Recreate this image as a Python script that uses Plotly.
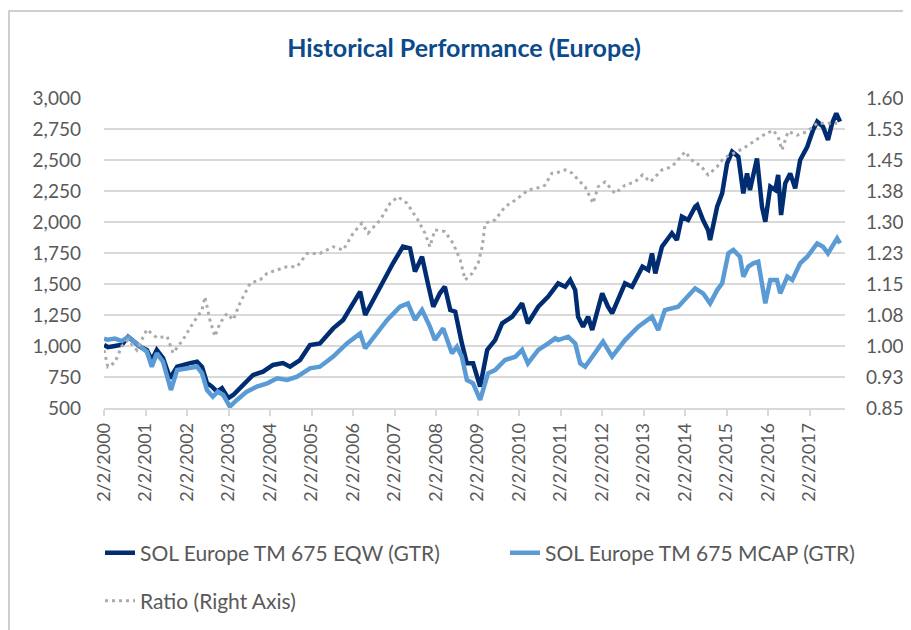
import plotly.graph_objects as go

# ---- data (decimal year, value) ----
eqw_t = [2000.09, 2000.18, 2000.35, 2000.52, 2000.67, 2000.96, 2001.12, 2001.24, 2001.36, 2001.51,
         2001.68, 2001.85, 2002.16, 2002.33, 2002.45, 2002.57, 2002.69, 2002.81, 2002.93, 2003.08,
         2003.20, 2003.44, 2003.68, 2003.92, 2004.16, 2004.40, 2004.57, 2004.81, 2005.05, 2005.29,
         2005.61, 2005.85, 2006.09, 2006.26, 2006.38, 2006.57, 2006.81, 2007.05, 2007.29, 2007.46,
         2007.58, 2007.75, 2007.89, 2008.02, 2008.18, 2008.30, 2008.43, 2008.55, 2008.71, 2008.83,
         2008.98, 2009.15, 2009.32, 2009.51, 2009.68, 2009.92, 2010.16, 2010.30, 2010.55, 2010.79,
         2011.03, 2011.20, 2011.32, 2011.44, 2011.51, 2011.63, 2011.75, 2011.85, 2012.09, 2012.23,
         2012.33, 2012.64, 2012.81, 2013.06, 2013.20, 2013.29, 2013.37, 2013.53, 2013.77, 2013.89,
         2014.01, 2014.16, 2014.33, 2014.38, 2014.52, 2014.64, 2014.69, 2014.86, 2014.98, 2015.10,
         2015.22, 2015.37, 2015.49, 2015.58, 2015.65, 2015.82, 2015.94, 2016.02, 2016.14, 2016.26,
         2016.33, 2016.40, 2016.50, 2016.62, 2016.74, 2016.86, 2017.03, 2017.17, 2017.27, 2017.41,
         2017.53, 2017.63, 2017.73, 2017.82]
eqw_v = [1010, 990, 1000, 1010, 1075, 994, 968, 887, 968, 903,
         740, 833, 862, 873, 831, 700, 672, 632, 660, 580,
         605, 685, 766, 793, 847, 862, 833, 887, 1008, 1021,
         1142, 1210, 1344, 1438, 1250, 1371, 1532, 1667, 1801, 1788,
         1600, 1720, 1505, 1317, 1425, 1478, 1290, 1277, 1021, 860,
         860, 672, 968, 1048, 1183, 1236, 1344, 1183, 1317, 1398,
         1505, 1478, 1532, 1451, 1236, 1156, 1236, 1129, 1425, 1317,
         1263, 1505, 1478, 1640, 1613, 1747, 1586, 1801, 1909, 1855,
         2043, 2016, 2123, 2137, 2016, 1935, 1855, 2123, 2231, 2473,
         2567, 2527, 2231, 2392, 2258, 2513, 2123, 2002, 2285, 2258,
         2379, 2056, 2312, 2392, 2271, 2500, 2607, 2742, 2809, 2769,
         2661, 2796, 2876, 2809]

mcap_t = [2000.09, 2000.18, 2000.35, 2000.52, 2000.67, 2000.96, 2001.12, 2001.24, 2001.36, 2001.51,
          2001.70, 2001.85, 2002.16, 2002.33, 2002.45, 2002.57, 2002.71, 2002.83, 2002.96, 2003.12,
          2003.29, 2003.53, 2003.77, 2004.02, 2004.26, 2004.50, 2004.74, 2005.05, 2005.29, 2005.61,
          2005.94, 2006.26, 2006.38, 2006.67, 2006.91, 2007.22, 2007.41, 2007.58, 2007.75, 2007.94,
          2008.06, 2008.26, 2008.47, 2008.59, 2008.71, 2008.83, 2008.98, 2009.15, 2009.34, 2009.51,
          2009.75, 2010.00, 2010.16, 2010.30, 2010.55, 2010.79, 2010.96, 2011.03, 2011.27, 2011.44,
          2011.56, 2011.68, 2011.85, 2012.11, 2012.33, 2012.64, 2012.96, 2013.29, 2013.44, 2013.60,
          2013.92, 2014.09, 2014.21, 2014.33, 2014.52, 2014.69, 2014.86, 2014.98, 2015.13, 2015.25,
          2015.41, 2015.49, 2015.61, 2015.73, 2015.85, 2015.94, 2016.02, 2016.14, 2016.30, 2016.38,
          2016.55, 2016.67, 2016.86, 2017.03, 2017.27, 2017.41, 2017.53, 2017.75, 2017.82]
mcap_v = [1060, 1050, 1060, 1040, 1075, 994, 954, 833, 941, 873,
          645, 806, 820, 833, 780, 645, 591, 632, 605, 511,
          565, 632, 672, 699, 739, 726, 752, 820, 833, 914,
          1021, 1102, 981, 1102, 1210, 1317, 1344, 1210, 1290, 1156,
          1048, 1142, 941, 994, 914, 726, 699, 565, 780, 806,
          887, 914, 968, 860, 968, 1021, 1062, 1048, 1075, 1021,
          860, 833, 914, 1035, 914, 1048, 1156, 1236, 1129, 1290,
          1317, 1380, 1430, 1465, 1425, 1344, 1451, 1505, 1747, 1774,
          1720, 1559, 1640, 1667, 1680, 1505, 1344, 1532, 1532, 1425,
          1559, 1532, 1667, 1720, 1828, 1801, 1747, 1868, 1828]

ratio_t = [2000.09, 2000.18, 2000.35, 2000.52, 2000.67, 2000.88, 2001.12, 2001.36, 2001.61, 2001.75,
           2001.99, 2002.23, 2002.45, 2002.52, 2002.64, 2002.76, 2002.88, 2003.05, 2003.20, 2003.36,
           2003.61, 2003.85, 2004.02, 2004.26, 2004.50, 2004.74, 2004.98, 2005.29, 2005.61, 2005.85,
           2006.09, 2006.30, 2006.45, 2006.74, 2006.98, 2007.17, 2007.39, 2007.65, 2007.82, 2007.94,
           2008.06, 2008.30, 2008.50, 2008.67, 2008.79, 2008.96, 2009.10, 2009.20, 2009.27, 2009.51,
           2009.75, 2010.00, 2010.30, 2010.64, 2010.71, 2010.88, 2010.96, 2011.20, 2011.37, 2011.51,
           2011.68, 2011.87, 2011.99, 2012.16, 2012.40, 2012.64, 2012.88, 2013.06, 2013.25, 2013.53,
           2013.77, 2014.09, 2014.21, 2014.33, 2014.45, 2014.64, 2014.86, 2015.01, 2015.25, 2015.49,
           2015.73, 2015.97, 2016.21, 2016.33, 2016.42, 2016.57, 2016.79, 2017.03, 2017.27, 2017.51,
           2017.75]
ratio_v = [0.99, 0.95, 0.96, 1.00, 1.015, 0.99, 1.04, 1.02, 1.023, 0.983,
           1.015, 1.055, 1.087, 1.119, 1.063, 1.023, 1.055, 1.079, 1.063, 1.103,
           1.152, 1.16, 1.176, 1.184, 1.192, 1.192, 1.224, 1.224, 1.24, 1.232,
           1.273, 1.297, 1.273, 1.305, 1.345, 1.361, 1.345, 1.305, 1.273, 1.240,
           1.281, 1.277, 1.248, 1.208, 1.160, 1.176, 1.200, 1.240, 1.297, 1.305,
           1.337, 1.353, 1.377, 1.385, 1.389, 1.418, 1.418, 1.426, 1.418, 1.402,
           1.385, 1.345, 1.385, 1.397, 1.369, 1.389, 1.397, 1.414, 1.397, 1.426,
           1.434, 1.47, 1.454, 1.442, 1.438, 1.414, 1.434, 1.454, 1.466, 1.478,
           1.494, 1.51, 1.522, 1.506, 1.474, 1.519, 1.51, 1.519, 1.539, 1.539,
           1.539]

x_tick_vals = [2000.088, 2001.088, 2002.088, 2003.088, 2004.088, 2005.088, 2006.088, 2007.088, 2008.088,
               2009.088, 2010.088, 2011.088, 2012.088, 2013.088, 2014.088, 2015.088, 2016.088, 2017.088]
x_tick_text = ["2/2/2000", "2/2/2001", "2/2/2002", "2/2/2003", "2/2/2004", "2/2/2005", "2/2/2006",
               "2/2/2007", "2/2/2008", "2/2/2009", "2/2/2010", "2/2/2011", "2/2/2012", "2/2/2013",
               "2/2/2014", "2/2/2015", "2/2/2016", "2/2/2017"]
y_tick_vals = [500, 750, 1000, 1250, 1500, 1750, 2000, 2250, 2500, 2750, 3000]
y2_tick_vals = [0.85, 0.925, 1.0, 1.075, 1.15, 1.225, 1.3, 1.375, 1.45, 1.525, 1.6]
y2_tick_text = ["0.85", "0.93", "1.00", "1.08", "1.15", "1.23", "1.30", "1.38", "1.45", "1.53", "1.60"]

FONT = "Lato, 'Open Sans', sans-serif"
GRAY_TXT = "#595959"
GRID = "#D9D9D9"

# the page body adds an 8px offset, so the figure is 8px smaller on each leading side
W, H = 903, 622

fig = go.Figure()
fig.add_trace(go.Scatter(x=eqw_t, y=eqw_v, mode="lines", name="SOL Europe TM 675 EQW (GTR)",
                         line=dict(color="#002D72", width=4.5), legend="legend"))
fig.add_trace(go.Scatter(x=mcap_t, y=mcap_v, mode="lines", name="SOL Europe TM 675 MCAP (GTR)",
                         line=dict(color="#5B9BD5", width=4.5), legend="legend"))
fig.add_trace(go.Scatter(x=ratio_t, y=ratio_v, mode="lines", name="Ratio (Right Axis)", yaxis="y2",
                         line=dict(color="#ABABAB", width=3, dash="3px,4px"), legend="legend2"))

fig.update_layout(
    width=W, height=H,
    paper_bgcolor="white", plot_bgcolor="white",
    margin=dict(l=96, r=66, t=90, b=222, autoexpand=False),
    font=dict(family=FONT, color=GRAY_TXT, size=17),
    title=dict(text="<b>Historical Performance (Europe)</b>", x=456 / W, xref="container",
               xanchor="center", y=1 - 40 / H, yanchor="middle",
               font=dict(family=FONT, size=25, color="#0B4A8B")),
    xaxis=dict(range=[2000.088, 2017.94], tickmode="array", tickvals=x_tick_vals, ticktext=x_tick_text,
               tickangle=-90, ticks="outside", ticklen=6, tickcolor=GRID, tickwidth=1.5,
               showline=True, linecolor=GRID, linewidth=1.5, showgrid=False, zeroline=False,
               automargin=False, tickfont=dict(size=18, color=GRAY_TXT)),
    yaxis=dict(range=[500, 3000], tickmode="array", tickvals=y_tick_vals, tickformat=",d",
               showgrid=True, gridcolor=GRID, gridwidth=1.5, zeroline=False, showline=False,
               automargin=False, ticks="", ticklabelstandoff=22, tickfont=dict(size=19, color=GRAY_TXT)),
    yaxis2=dict(range=[0.85, 1.6], overlaying="y", side="right", tickmode="array",
                tickvals=y2_tick_vals, ticktext=y2_tick_text, showgrid=False, zeroline=False,
                showline=False, automargin=False, ticks="", ticklabelstandoff=20,
                tickfont=dict(size=19, color=GRAY_TXT)),
    legend=dict(orientation="h", x=(100 - 104) / 741, xanchor="left", y=(408 - 553) / 310, yanchor="middle",
                entrywidth=360, font=dict(size=21, color=GRAY_TXT), bgcolor="rgba(0,0,0,0)"),
    legend2=dict(orientation="h", x=(100 - 104) / 741, xanchor="left", y=(408 - 601) / 310, yanchor="middle",
                 font=dict(size=21, color=GRAY_TXT), bgcolor="rgba(0,0,0,0)"),
    shapes=[dict(type="rect", xref="paper", yref="paper",
                 x0=(9 - 104) / 741, x1=(920 - 104) / 741, y0=(408 - 640) / 310, y1=(408 - 11) / 310,
                 line=dict(color="#BFBFBF", width=1.5), fillcolor="rgba(0,0,0,0)", layer="below")],
)

fig.write_html("out.html")
